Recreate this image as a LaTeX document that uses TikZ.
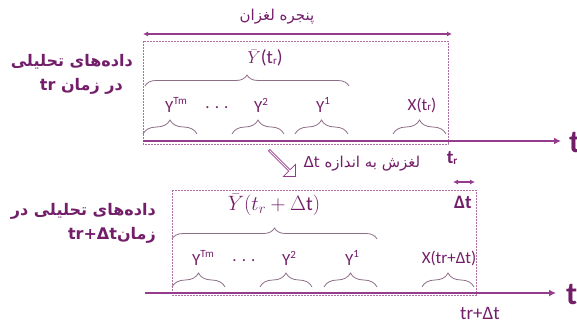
\documentclass[tikz,border=0pt]{standalone}
\usepackage{fontspec}
\setmainfont{Carlito}
\newfontfamily\arabicfont[Script=Arabic]{DejaVu Sans}
\TeXXeTstate=1
\usetikzlibrary{decorations.pathreplacing,shapes.arrows,arrows.meta}
\definecolor{txt}{RGB}{115,30,105}
\definecolor{axcol}{RGB}{150,60,140}
\definecolor{dashcol}{RGB}{175,110,165}
\definecolor{bracecol}{RGB}{140,110,135}
\newcommand\mysup[1]{\raisebox{0.42em}{\fontsize{11}{11}\selectfont #1}}
\newcommand\mysub[1]{\raisebox{-0.05em}{\fontsize{11}{11}\selectfont #1}}
\begin{document}
\begin{tikzpicture}[x=1pt,y=-1pt,
 lbl/.style={text=txt, font=\fontsize{17}{17}\selectfont, inner sep=0pt},
 big/.style={text=txt, font=\fontsize{19}{19}\selectfont, inner sep=0pt},
 fa/.style={text=txt, font=\arabicfont\fontsize{15}{17}\selectfont, inner sep=0pt},
 fab/.style={text=txt, font=\arabicfont\bfseries\fontsize{16}{18}\selectfont, inner sep=0pt, anchor=east},
 br/.style={draw=bracecol, line width=0.8pt, decorate, decoration={brace, amplitude=#1}},
 dbox/.style={draw=dashcol, line width=0.7pt, dash pattern=on 2pt off 1pt},
 axis/.style={draw=axcol, line width=1.5pt, -{Latex[length=7pt,width=7pt]}},
 dim/.style={draw=axcol, line width=1.2pt, {Latex[length=5pt,width=5pt]}-{Latex[length=5pt,width=5pt]}},
 bigt/.style={text=txt, font=\bfseries\fontsize{32}{32}\selectfont, inner sep=0pt, anchor=west},
]
\useasboundingbox (0,0) rectangle (577,327);

% ---------- top window ----------
\coordinate (wl) at (143,34);
\coordinate (wr) at (452,34);
\draw[dim] (wl) -- (wr);
\node[fa] (win) at (277,17) {\beginR پنجره لغزان\endR};
\draw[dbox] (143,41) rectangle (448,144);

\coordinate (a1s) at (143,141);
\coordinate (a1e) at (561,141);
\draw[axis] (a1s) -- (a1e);
\node[bigt] (t1) at (569,143) {t};
\node[big] (tr1) at (452,158) {\bfseries t\mysub{r}};

\node[big] (yb1) at (265,58) {$\bar{Y}$(t\mysub{r})};
\coordinate (b1l) at (145,86);
\coordinate (b1r) at (349,86);
\draw[br=11pt] (b1l) -- (b1r);

\coordinate (s1a) at (143,134); \coordinate (s1b) at (197,134);
\coordinate (s2a) at (232,134); \coordinate (s2b) at (284,134);
\coordinate (s3a) at (295,134); \coordinate (s3b) at (348,134);
\coordinate (s4a) at (393,134); \coordinate (s4b) at (446,134);
\draw[br=14pt] (s1a) -- (s1b);
\draw[br=14pt] (s2a) -- (s2b);
\draw[br=14pt] (s3a) -- (s3b);
\draw[br=14pt] (s4a) -- (s4b);
\node[lbl] (ytm1) at (176,105) {Y\mysup{Tm}};
\node[lbl] (dots1) at (217,108) {. . .};
\node[lbl] (y21) at (261,105) {Y\mysup{2}};
\node[lbl] (y11) at (323,105) {Y\mysup{1}};
\node[lbl] (x1) at (422,105) {X(t\mysub{r})};

\node[fab] (l1a) at (133,62) {\beginR داده‌های تحلیلی\endR};
\node[fab] (l1b) at (123,86) {\beginR در زمان \beginL tr\endL\endR};

% ---------- shift ----------
\node[single arrow, draw=axcol, fill=white, line width=0.7pt, rotate=-45,
  minimum height=37pt, minimum width=17pt, single arrow head extend=3pt,
  inner sep=0pt] (sa) at (282,163) {};
\node[fa] (shift) at (362,164) {\beginR لغزش به اندازه \beginL Δt\endL\endR};

% ---------- bottom window ----------
\coordinate (dl) at (453,182);
\coordinate (dr) at (475,182);
\draw[dim] (dl) -- (dr);
\node[big] (dt) at (463,202) {\bfseries Δt};
\draw[dbox] (172,190) rectangle (476,295);

\coordinate (a2s) at (145,293);
\coordinate (a2e) at (556,293);
\draw[axis] (a2s) -- (a2e);
\node[bigt] (t2) at (566,295) {t};
\node[big] (tr2) at (480,313) {tr+Δt};

\node[big] (yb2) at (274,205) {\fontsize{20}{20}\selectfont$\bar{Y}(t_r+\Delta\mathrm{t})$};
\coordinate (b2l) at (172,239);
\coordinate (b2r) at (377,239);
\draw[br=11pt] (b2l) -- (b2r);

\coordinate (u1a) at (172,287); \coordinate (u1b) at (225,287);
\coordinate (u2a) at (260,287); \coordinate (u2b) at (312,287);
\coordinate (u3a) at (324,287); \coordinate (u3b) at (377,287);
\coordinate (u4a) at (422,287); \coordinate (u4b) at (474,287);
\draw[br=14pt] (u1a) -- (u1b);
\draw[br=14pt] (u2a) -- (u2b);
\draw[br=14pt] (u3a) -- (u3b);
\draw[br=14pt] (u4a) -- (u4b);
\node[lbl] (ytm2) at (203,258) {Y\mysup{Tm}};
\node[lbl] (dots2) at (244,261) {. . .};
\node[lbl] (y22) at (289,258) {Y\mysup{2}};
\node[lbl] (y12) at (352,258) {Y\mysup{1}};
\node[lbl] (x2) at (449,258) {X(tr+Δt)};

\node[fab] (l2a) at (156,211) {\beginR داده‌های تحلیلی در\endR};
\node[fab] (l2b) at (156,235) {\beginR زمان\beginL tr+Δt\endL\endR};
\end{tikzpicture}
\end{document}
